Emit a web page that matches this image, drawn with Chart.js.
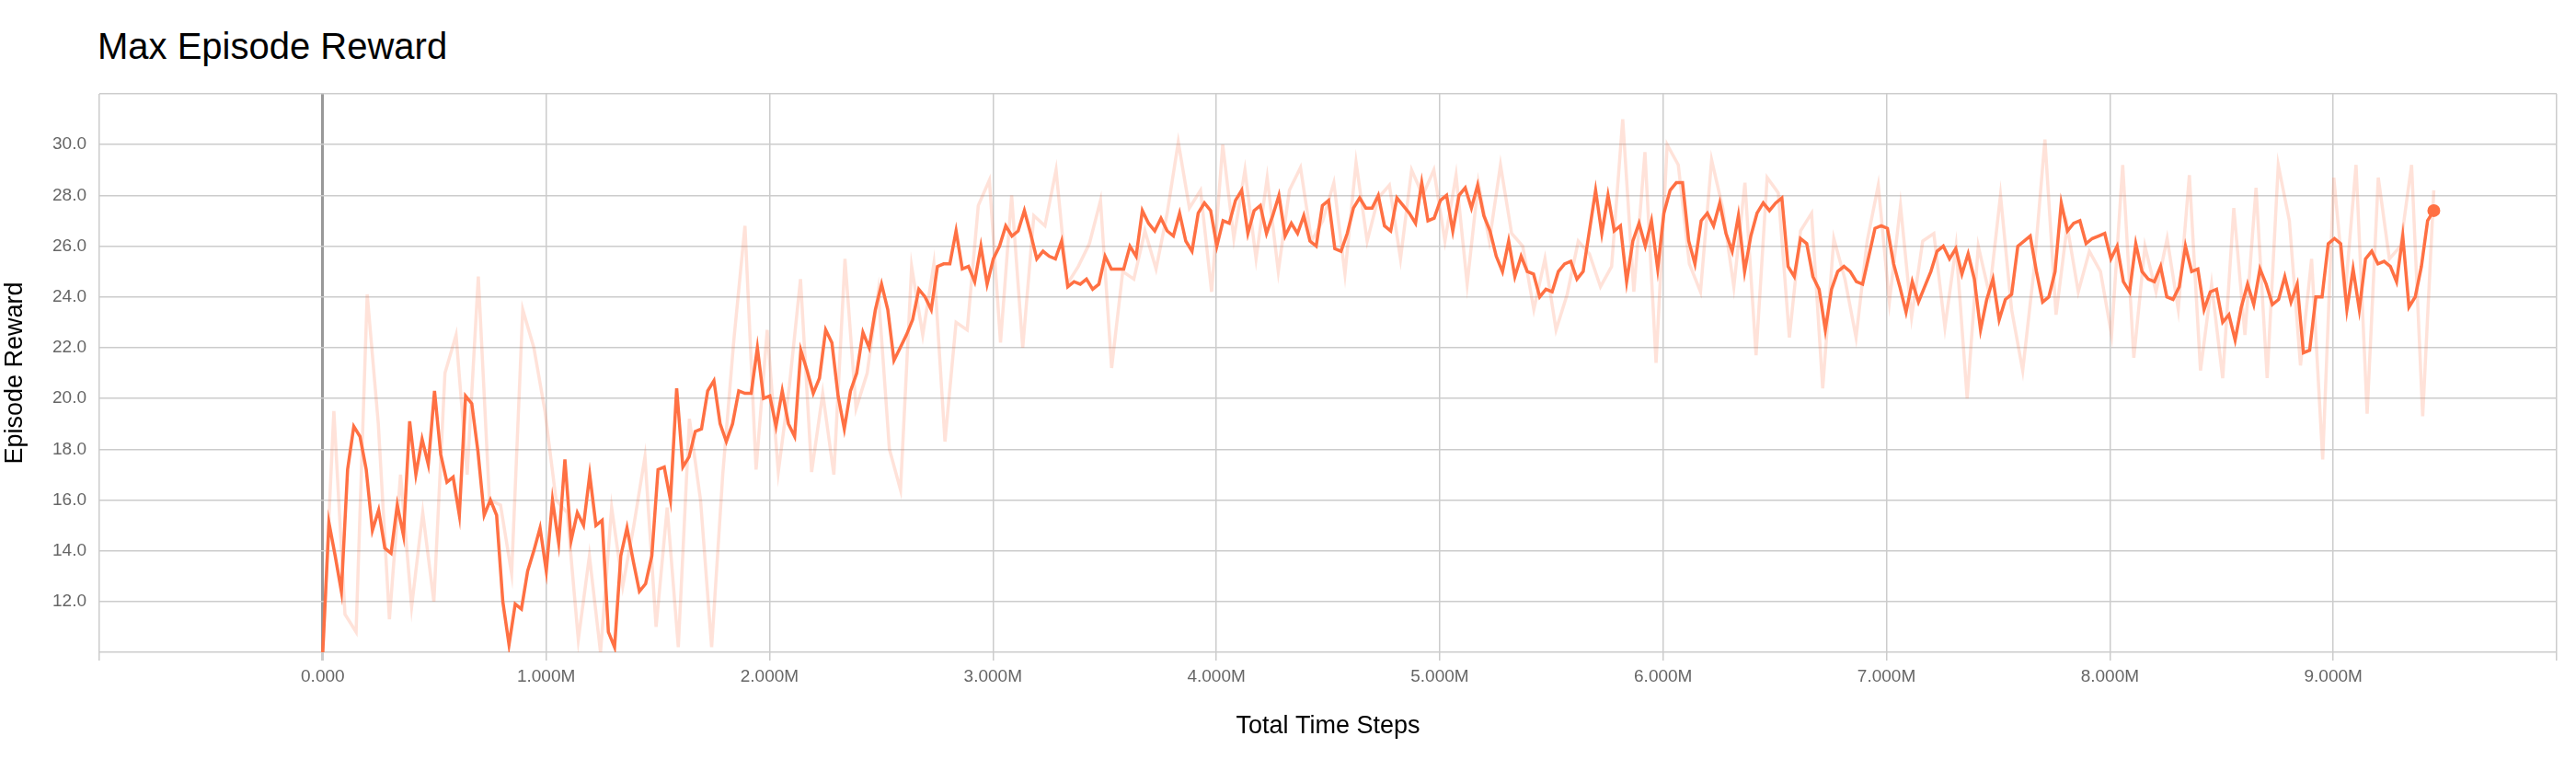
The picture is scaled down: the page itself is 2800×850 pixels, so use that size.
<!DOCTYPE html>
<html>
<head>
<meta charset="utf-8">
<script src="https://cdn.jsdelivr.net/npm/chart.js@4"></script>
<style>
  body { margin: 0; background: #fff; }
  #title { position: absolute; left: 106px; top: 28px; font: 40px "Liberation Sans", Arial, sans-serif; color: #000; }
  canvas { position: absolute; left: 0; top: 0; }
</style>
</head>
<body>
<div id="title">Max Episode Reward</div>
<canvas id="c" width="2800" height="850"></canvas>
<script>
// last logged step (millions)
const lastStep = 9.45;

// smoothed reward
const smoothed = [10.0,15.1,13.8,12.4,17.2,18.9,18.5,17.2,14.8,15.6,14.1,13.9,15.8,14.6,19.1,17.0,18.4,17.4,20.3,17.8,16.7,16.9,15.4,20.1,19.8,17.9,15.4,16.0,15.4,12.0,10.3,11.9,11.7,13.2,14.0,14.9,13.2,16.0,14.3,17.6,14.4,15.5,15.0,17.0,15.0,15.2,10.8,10.2,13.8,14.9,13.6,12.4,12.7,13.8,17.2,17.3,16.0,20.4,17.3,17.7,18.7,18.8,20.3,20.7,19.0,18.3,19.0,20.3,20.2,20.2,22.0,20.0,20.1,18.9,20.3,19.0,18.5,21.9,21.1,20.2,20.8,22.7,22.2,20.1,18.8,20.3,21.0,22.6,22.0,23.5,24.5,23.5,21.5,22.0,22.5,23.1,24.3,24.0,23.5,25.2,25.3,25.3,26.6,25.1,25.2,24.6,26.0,24.5,25.5,26.0,26.8,26.4,26.6,27.4,26.5,25.5,25.8,25.6,25.5,26.2,24.4,24.6,24.5,24.7,24.3,24.5,25.6,25.1,25.1,25.1,26.0,25.6,27.4,26.9,26.6,27.1,26.6,26.4,27.3,26.2,25.8,27.3,27.7,27.4,26.0,27.0,26.9,27.8,28.2,26.5,27.4,27.6,26.5,27.2,28.0,26.4,26.9,26.5,27.2,26.2,26.0,27.6,27.8,25.9,25.8,26.5,27.5,27.9,27.5,27.5,28.0,26.8,26.6,27.9,27.6,27.3,26.9,28.5,27.0,27.1,27.8,28.0,26.6,28.0,28.3,27.5,28.4,27.2,26.6,25.6,25.0,26.2,24.8,25.6,25.0,24.9,24.0,24.3,24.2,25.0,25.3,25.4,24.7,25.0,26.6,28.2,26.5,28.0,26.6,26.8,24.6,26.2,26.9,26.0,27.0,25.1,27.3,28.2,28.5,28.5,26.2,25.3,27.0,27.3,26.8,27.7,26.5,25.8,27.2,25.0,26.4,27.3,27.7,27.4,27.7,27.9,25.2,24.8,26.3,26.1,24.8,24.3,22.7,24.3,25.0,25.2,25.0,24.6,24.5,25.6,26.7,26.8,26.7,25.3,24.4,23.4,24.6,23.8,24.4,25.0,25.8,26.0,25.5,25.9,24.9,25.7,24.7,22.7,23.9,24.7,23.1,23.9,24.1,26.0,26.2,26.4,25.0,23.8,24.0,25.0,27.7,26.6,26.9,27.0,26.1,26.3,26.4,26.5,25.5,26.0,24.6,24.2,26.1,25.0,24.7,24.6,25.2,24.0,23.9,24.4,26.0,25.0,25.1,23.5,24.2,24.3,23.0,23.3,22.3,23.6,24.5,23.7,25.1,24.5,23.7,23.9,24.8,23.8,24.5,21.8,21.9,24.0,24.0,26.1,26.3,26.1,23.5,25.1,23.5,25.5,25.8,25.3,25.4,25.2,24.6,26.4,23.6,24.0,25.2,27.0,27.4];

// raw reward
const raw = [10.0,19.5,11.5,10.8,24.1,19.0,11.3,17.0,11.8,15.5,12.0,21.0,22.5,17.0,24.8,16.0,15.8,13.1,23.5,22.0,
  19.5,16.0,15.5,10.5,13.8,10.0,15.7,12.6,15.0,17.7,11.0,15.7,10.2,19.2,16.0,10.2,17.0,22.3,26.8,17.2,
  22.7,17.1,20.5,24.7,17.1,20.2,17.0,25.5,19.6,21.0,24.2,18.0,16.4,25.2,22.5,25.3,18.3,23.0,22.7,27.6,
  28.6,22.2,28.0,22.0,27.2,26.8,29.0,24.5,25.2,26.1,27.8,21.2,25.0,24.7,26.6,25.1,27.3,30.1,27.5,28.2,
  24.2,30.0,26.3,29.0,25.5,28.7,25.0,28.2,29.1,26.2,27.0,28.5,24.9,29.3,26.2,27.9,28.4,25.5,29.0,28.0,
  29.0,26.2,28.8,24.5,28.5,26.2,29.2,26.5,26.0,23.5,25.5,22.7,24.1,26.2,25.7,24.4,25.2,31.0,24.2,29.7,
  21.4,30.0,29.2,25.3,24.2,29.4,27.5,24.4,28.5,21.7,28.7,28.1,22.4,26.6,27.3,20.4,26.3,24.7,22.4,26.2,
  28.4,23.8,27.6,23.2,26.2,26.5,22.8,26.0,20.0,26.0,24.1,28.0,23.5,21.1,25.0,30.2,23.3,26.8,24.2,25.8,
  25.0,22.5,29.2,21.6,26.0,24.2,26.3,23.5,28.8,21.1,24.5,20.8,27.5,22.5,28.3,20.8,29.2,27.0,21.3,25.5,
  17.6,28.7,24.0,29.2,19.4,28.7,25.5,26.0,29.2,19.3,28.2];

const xTicks = [-1,0,1,2,3,4,5,6,7,8,9,10];
const yTicks = [10,12,14,16,18,20,22,24,26,28,30,32];

const toPoints = (vals) => vals.map((v, i) => ({ x: i * lastStep / (vals.length - 1), y: v }));

Chart.defaults.font.family = '"Liberation Sans", Arial, sans-serif';

new Chart(document.getElementById('c'), {
  type: 'line',
  data: {
    datasets: [
      {
        data: toPoints(smoothed),
        borderColor: '#ff7043',
        borderWidth: 3.5,
        pointRadius: (ctx) => ctx.dataIndex === smoothed.length - 1 ? 7 : 0,
        pointBackgroundColor: '#ff7043',
        pointBorderWidth: 0,
        tension: 0,
      },
      {
        data: toPoints(raw),
        borderColor: 'rgba(255,112,67,0.2)',
        borderWidth: 3.5,
        pointRadius: 0,
        tension: 0,
      },
    ],
  },
  options: {
    responsive: false,
    animation: false,
    devicePixelRatio: 1,
    layout: { padding: { left: 0, right: 21, top: 102, bottom: 0 } },
    plugins: { legend: { display: false }, tooltip: { enabled: false } },
    scales: {
      x: {
        type: 'linear',
        min: -1,
        max: 10,
        afterFit: (s) => { s.height = 141; },
        afterBuildTicks: (s) => { s.ticks = xTicks.map((v) => ({ value: v })); },
        grid: {
          color: (ctx) => ctx.tick && ctx.tick.value === 0 ? '#999' : '#ccc',
          lineWidth: (ctx) => ctx.tick && ctx.tick.value === 0 ? 3 : 1.5,
          tickLength: 9,
          tickColor: '#ccc',
        },
        border: { display: false },
        ticks: {
          color: '#666',
          font: { size: 19 },
          padding: 6,
          maxRotation: 0,
          autoSkip: false,
          callback: (v) => (v < 0 || v > 9) ? '' : (v === 0 ? '0.000' : v.toFixed(3) + 'M'),
        },
        title: { display: true, text: 'Total Time Steps', color: '#000', font: { size: 27 }, padding: { top: 4, bottom: 44 } },
      },
      y: {
        min: 10,
        max: 32,
        afterFit: (s) => { s.width = 108; },
        afterBuildTicks: (s) => { s.ticks = yTicks.map((v) => ({ value: v })); },
        grid: { color: '#ccc', lineWidth: 1.5, drawTicks: false },
        border: { display: false },
        ticks: {
          color: '#666',
          font: { size: 19 },
          padding: 14,
          callback: (v) => (v <= 10 || v >= 32) ? '' : v.toFixed(1),
        },
        title: { display: true, text: 'Episode Reward', color: '#000', font: { size: 27 }, padding: { top: 0, bottom: 4 } },
      },
    },
  },
});
</script>
</body>
</html>
